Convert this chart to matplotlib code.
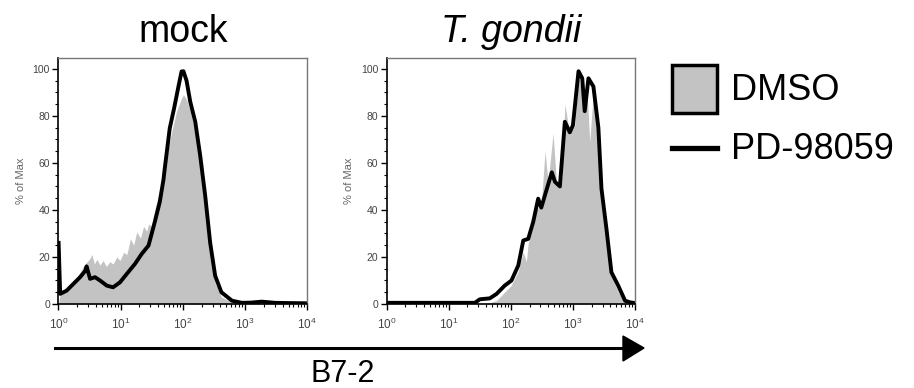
import numpy as np
import matplotlib
matplotlib.use('agg')
import matplotlib.pyplot as plt
from matplotlib.lines import Line2D
from matplotlib.patches import Rectangle, Polygon

plt.rcParams['font.family'] = ['Liberation Sans', 'DejaVu Sans']
plt.rcParams['mathtext.default'] = 'regular'

# log10 positions on the B7-2 axis, values in % of max
mock_dmso_x = [0.0, 0.03, 0.134, 0.24, 0.35, 0.43, 0.5, 0.54, 0.58, 0.62, 0.67, 0.72, 0.77, 0.83, 0.88, 0.94,
               0.99, 1.05, 1.1, 1.16, 1.21, 1.26, 1.32, 1.37, 1.42, 1.45, 1.5, 1.53, 1.58, 1.66, 1.74, 1.82,
               1.9, 1.98, 2.01, 2.06, 2.12, 2.2, 2.28, 2.36, 2.44, 2.52, 2.62, 2.79, 3.0, 4.0]
mock_dmso_y = [0, 4, 6.4, 9.2, 13.5, 17, 19, 21, 17, 19, 16.5, 18.5, 16, 18, 17, 20,
               18.5, 22, 21, 27.7, 25, 30.6, 28, 33, 31, 34, 33, 37.7, 43.4, 52, 63, 73,
               82, 87.5, 89, 87, 82, 73, 62, 42, 22, 9, 3, 0.7, 0.2, 0]
mock_pd_x = [0.005, 0.03, 0.134, 0.24, 0.35, 0.43, 0.455, 0.51, 0.59, 0.67, 0.78, 0.88, 0.99, 1.1, 1.23,
             1.34, 1.45, 1.55, 1.63, 1.69, 1.71, 1.79, 1.86, 1.93, 1.98, 2.01, 2.06, 2.12, 2.2, 2.28,
             2.36, 2.44, 2.52, 2.62, 2.79, 2.95, 3.1, 3.27, 3.48, 3.7, 4.0]
mock_pd_y = [26, 4.3, 5.7, 8.5, 11.4, 14, 16, 10.7, 11.4, 10, 7.8, 7.1, 9.2, 12.8, 17,
             21.3, 24.9, 34.9, 43.4, 53, 57.6, 74.7, 83.2, 92.5, 98.9, 99, 95, 86, 77.5, 63,
             46, 26, 12, 5, 1.4, 0.5, 0.6, 1, 0.5, 0.4, 0.3]

tg_dmso_x = [1.6, 1.77, 1.9, 2.01, 2.12, 2.2, 2.25, 2.28, 2.36, 2.41, 2.49, 2.55, 2.6, 2.68, 2.74, 2.82,
             2.87, 2.95, 3.03, 3.09, 3.17, 3.22, 3.27, 3.33, 3.41, 3.46, 3.54, 3.62, 3.73, 3.84, 4.0]
tg_dmso_y = [0, 1.5, 5, 8, 14, 22, 18, 26, 33, 40, 42, 65, 52, 72.5, 50, 52,
             85, 72, 76, 97, 86, 95, 69, 90, 71, 46, 29, 12, 5, 1, 0]
tg_pd_x = [0.0, 1.42, 1.5, 1.66, 1.77, 1.9, 2.01, 2.12, 2.2, 2.28, 2.36, 2.44, 2.49, 2.58, 2.66, 2.71,
           2.79, 2.87, 2.95, 3.0, 3.09, 3.15, 3.19, 3.25, 3.33, 3.41, 3.46, 3.54, 3.62, 3.73, 3.84, 3.92, 4.0]
tg_pd_y = [0.5, 0.5, 2, 2.4, 4.3, 7.8, 10, 16.4, 27, 27.7, 34.9, 44.8, 41, 49, 56, 52,
           50, 77.5, 73, 76, 99, 96, 82, 96, 92.5, 75, 49, 32, 13.5, 7.8, 1.4, 0.7, 0.4]

titles = ['mock', 'T. gondii']
labels = ['DMSO', 'PD-98059']
gray = '#c3c3c3'

W, H = 914, 388
fig = plt.figure(figsize=(W / 100, H / 100), dpi=100)

def hist_panel(rect, dx, dy, px, py, title, italic):
    ax = fig.add_axes(rect)
    ax.fill_between(10 ** np.array(dx), dy, 0, color=gray, lw=0)
    ax.plot(10 ** np.array(px), py, color='k', lw=2.8, solid_joinstyle='round')
    ax.set_xscale('log')
    ax.set_xlim(1, 1e4)
    ax.set_ylim(0, 104.5)
    ax.set_yticks([0, 20, 40, 60, 80, 100])
    ax.set_yticks(np.arange(0, 101, 5), minor=True)
    ax.tick_params(which='both', direction='out', colors='k', labelcolor='#444444', labelsize=7.5)
    ax.tick_params(which='major', length=4, width=1, pad=2)
    ax.tick_params(which='minor', length=2.5, width=0.8)
    ax.tick_params(axis='x', which='major', pad=5, labelsize=8.5)
    for s in ['left', 'bottom']:
        ax.spines[s].set_color('k')
        ax.spines[s].set_linewidth(1.2)
    for s in ['top', 'right']:
        ax.spines[s].set_color('#777777')
        ax.spines[s].set_linewidth(1)
    ax.set_ylabel('% of Max', fontsize=8, color='#666666', labelpad=5)
    ax.set_title(title, fontsize=27, pad=11.5, style='italic' if italic else 'normal')
    return ax

hist_panel([58.3 / W, 84 / H, 249 / W, 245.7 / H], mock_dmso_x, mock_dmso_y, mock_pd_x, mock_pd_y, titles[0], False)
hist_panel([386.7 / W, 84 / H, 248.3 / W, 245.7 / H], tg_dmso_x, tg_dmso_y, tg_pd_x, tg_pd_y, titles[1], True)

# axis arrow + label
ya = (H - 348) / H
fig.add_artist(Line2D([55 / W, 626 / W], [ya, ya], transform=fig.transFigure, color='k', lw=2.2))
fig.add_artist(Polygon([[623 / W, (H - 336) / H], [644 / W, ya], [623 / W, (H - 361) / H]],
                       closed=True, transform=fig.transFigure, color='k'))
fig.text(343 / W, (H - 359) / H, 'B7-2', fontsize=22, ha='center', va='top')

# legend
fig.add_artist(Rectangle((672 / W, (H - 113) / H), 45 / W, 48 / H, transform=fig.transFigure,
                         facecolor=gray, edgecolor='k', lw=2.5))
fig.add_artist(Line2D([672 / W, 717 / W], [(H - 148) / H] * 2, transform=fig.transFigure, color='k', lw=3.8))
fig.text(731 / W, (H - 90) / H, labels[0], fontsize=26, ha='left', va='center')
fig.text(731 / W, (H - 150) / H, labels[1], fontsize=26, ha='left', va='center')

fig.savefig('out.png', dpi=100)
